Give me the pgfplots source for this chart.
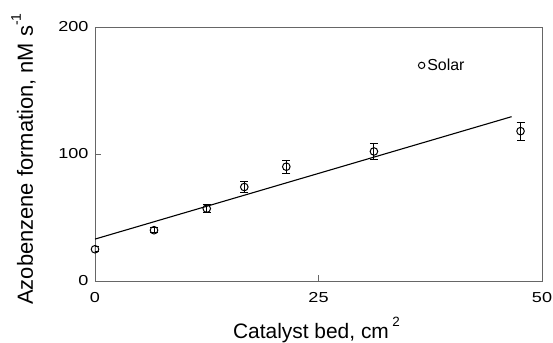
\documentclass[border=0pt]{standalone}
\usepackage{fontspec}
\setmainfont{Liberation Sans}
\usepackage{pgfplots}
\pgfplotsset{compat=1.18}
\begin{document}
\begin{tikzpicture}[x=1bp,y=1bp]
\path[use as bounding box] (-95,-61) rectangle (458,281);
\begin{axis}[
  at={(0,0)}, anchor=south west,
  scale only axis, width=447bp, height=254bp,
  xmin=0, xmax=50, ymin=0, ymax=200,
  xtick={0,25,50}, ytick={0,100,200},
  tick align=inside, xtick pos=bottom, ytick pos=left,
  major tick length=6bp,
  axis line style={draw=black!60, line width=0.9bp},
  every tick/.style={draw=black!60, line width=0.9bp},
  tick label style={font=\fontsize{14.5}{16}\selectfont},
  xticklabel={\scalebox{1.25}[1]{\pgfmathprintnumber{\tick}}},
  yticklabel={\scalebox{1.25}[1]{\pgfmathprintnumber{\tick}}},
  xticklabel style={anchor=north, yshift=-8bp},
  yticklabel style={anchor=east, xshift=-3bp},
  /pgf/number format/assume math mode=true,
  xlabel={Catalyst bed, cm\,\raisebox{0.55em}{\fontsize{13.5}{14}\selectfont 2}},
  ylabel={Azobenzene formation, nM s\raisebox{0.55em}{\fontsize{14}{15}\selectfont -1}},
  xlabel style={font=\fontsize{21}{23}\selectfont, at={(axis description cs:0.5,0)}, anchor=base, yshift=-57bp, xshift=-2bp},
  ylabel style={font=\fontsize{22}{24}\selectfont, at={(axis description cs:0,0.5)}, anchor=base, yshift=62bp, xshift=-5bp},
  legend style={draw=none, fill=none, at={(axis description cs:0.722,0.849)}, anchor=west, font=\fontsize{16}{18}\selectfont, inner sep=0bp},
  legend cell align=left,
  legend image code/.code={\draw[black, line width=1bp] (0.6cm-13bp,0bp) circle (3.2bp);},
]
\addplot[black, line width=1bp, only marks, mark=o, mark size=3.8bp,
  mark options={line width=1bp},
  error bars/.cd, y dir=both, y explicit, error mark options={rotate=90, mark size=4bp, line width=1bp},
  error bar style={line width=1bp}]
  coordinates {
  (0,25) +- (0,2)
  (6.6,40) +- (0,2)
  (12.5,57) +- (0,3)
  (16.7,74) +- (0,4.5)
  (21.4,90) +- (0,5)
  (31.2,102) +- (0,6)
  (47.6,118) +- (0,7)
  };
\addlegendentry{Solar}
\addplot[black, line width=1.1bp, forget plot] coordinates {(0,33) (46.6,129.4)};
\end{axis}
\end{tikzpicture}
\end{document}
